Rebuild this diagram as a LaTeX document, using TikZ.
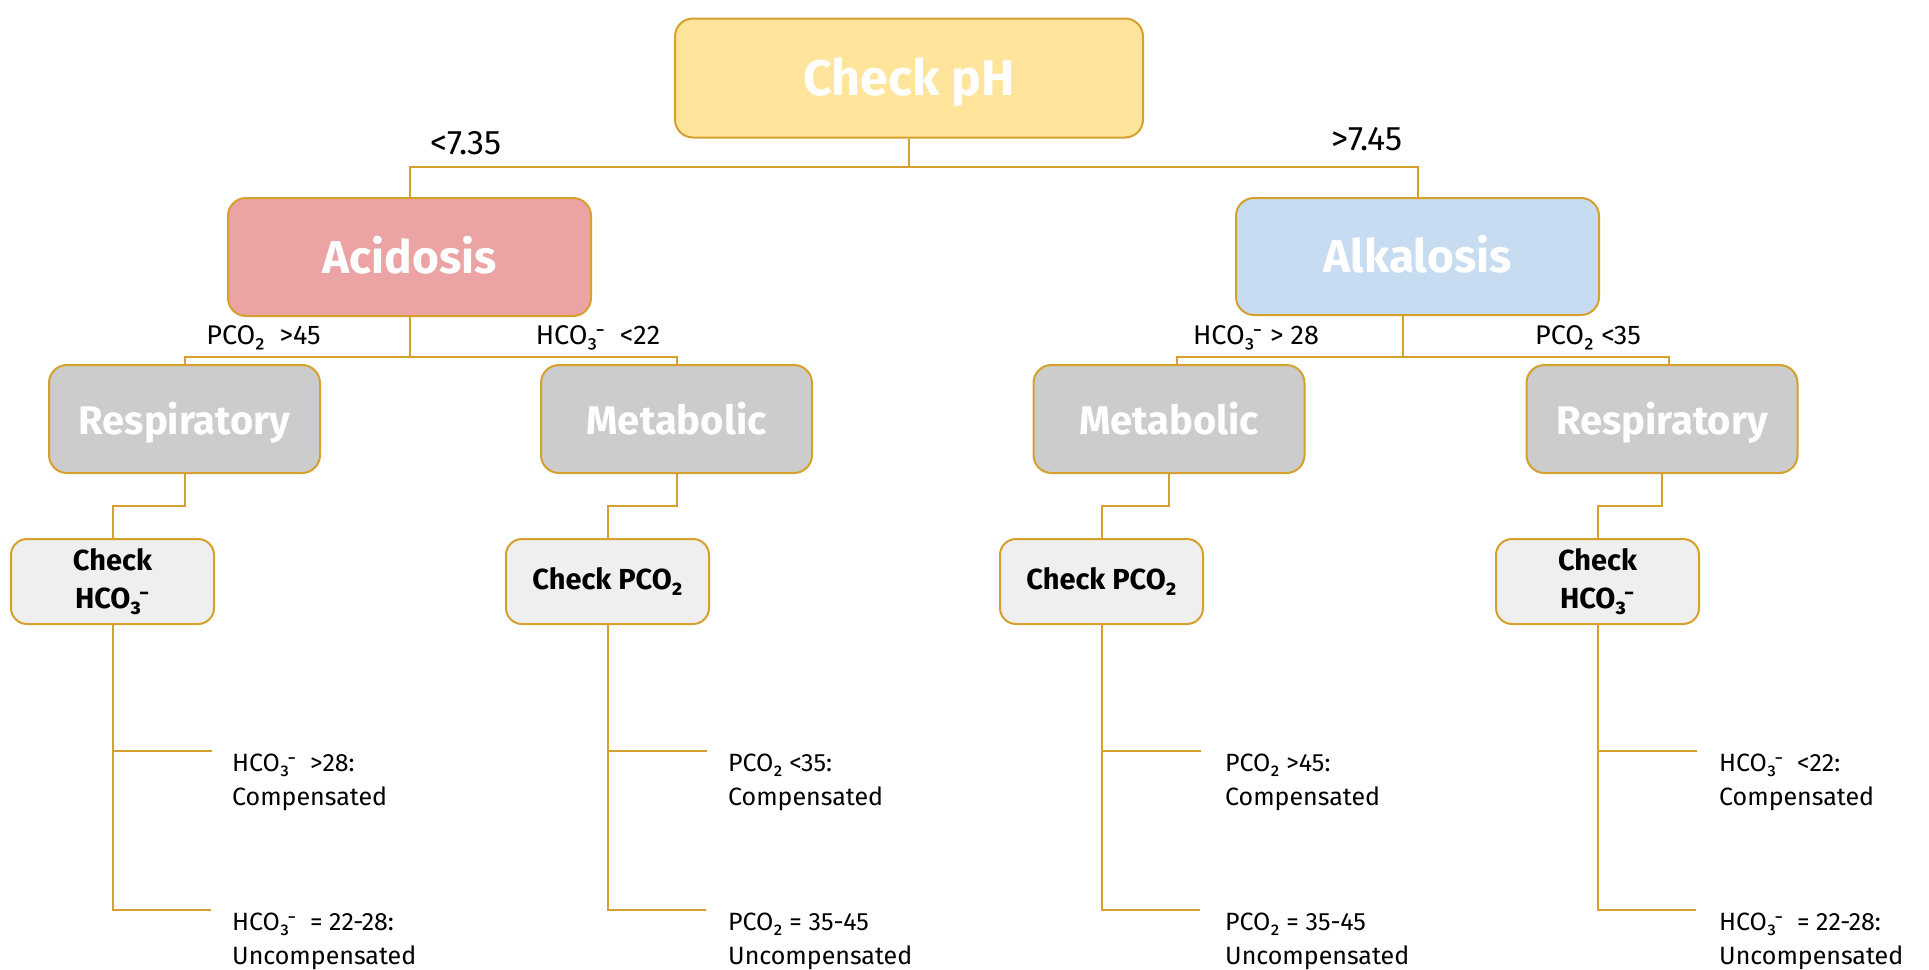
\documentclass[tikz,border=0pt]{standalone}
\usepackage{fontspec}
\setmainfont{Fira Sans}
\usetikzlibrary{calc}

\definecolor{gold}{HTML}{D6A02C}
\definecolor{phfill}{HTML}{FFE59B}
\definecolor{acidfill}{HTML}{EBA3A3}
\definecolor{alkfill}{HTML}{C7DCF0}
\definecolor{typefill}{HTML}{CCCCCC}
\definecolor{checkfill}{HTML}{EFEFEF}

\tikzset{
  box/.style={draw=gold, line width=2pt, rounded corners=18pt, inner sep=0pt,
    align=center, font=\bfseries},
  toplevel/.style={box, text=white, text height=40pt, text depth=8pt,
    font=\bfseries\fontsize{46}{52}\selectfont},
  typebox/.style={box, fill=typefill, text=white, minimum width=271pt,
    minimum height=108pt, text height=39pt, text depth=7.4pt,
    font=\bfseries\fontsize{40}{44}\selectfont},
  checkbox/.style={box, fill=checkfill, text=black, minimum width=203pt,
    minimum height=85pt, rounded corners=16pt,
    font=\bfseries\fontsize{29}{38}\selectfont},
  link/.style={draw=gold, line width=2pt},
  cond/.style={inner sep=0pt, font=\fontsize{27}{32}\selectfont},
  pHcond/.style={inner sep=0pt, font=\fontsize{34}{38}\selectfont},
  result/.style={inner sep=0pt, anchor=west, align=left,
    font=\fontsize{25}{34}\selectfont},
}

\begin{document}
\begin{tikzpicture}[x=1pt, y=-1pt]
\useasboundingbox (0,0) rectangle (1929,969);

% top level
\node[toplevel, fill=phfill, minimum width=468pt, minimum height=119pt,
  text height=43pt, text depth=8.6pt,
  font=\bfseries\fontsize{50}{56}\selectfont] (ph) at (909,78) {Check pH};
\node[toplevel, fill=acidfill, minimum width=363pt, minimum height=118pt]
  (acid) at (409.5,257) {Acidosis};
\node[toplevel, fill=alkfill, minimum width=363pt, minimum height=117pt]
  (alk) at (1417.5,256.5) {Alkalosis};

% disorder type
\node[typebox] (respL) at (184.5,419) {Respiratory};
\node[typebox] (metL)  at (676.5,419) {Metabolic};
\node[typebox] (metR)  at (1169,419)  {Metabolic};
\node[typebox] (respR) at (1662,419)  {Respiratory};

% what to check next
\node[checkbox] (chkL1) at (112.5,581.5)  {Check\\HCO₃⁻};
\node[checkbox] (chkL2) at (607.5,581.5)  {Check PCO₂};
\node[checkbox] (chkR1) at (1101.5,581.5) {Check PCO₂};
\node[checkbox] (chkR2) at (1597.5,581.5) {Check\\HCO₃⁻};

% branch bars
\coordinate (barA) at (0,167);
\coordinate (barB) at (0,357);
\coordinate (kink) at (0,506);

\draw[link] (ph.south) -- (ph.south |- barA);
\draw[link] (acid.north) -- (acid.north |- barA) -| (alk.north);

\draw[link] (acid.south) -- (acid.south |- barB);
\draw[link] (respL.north) -- (respL.north |- barB) -| (metL.north);

\coordinate (alkdrop) at ($(alk.south)+(-15,0)$);
\coordinate (metRtop) at ($(metR.north)+(8,0)$);
\coordinate (respRtop) at ($(respR.north)+(7,0)$);
\draw[link] (alkdrop) -- (alkdrop |- barB);
\draw[link] (metRtop) -- (metRtop |- barB) -| (respRtop);

\draw[link] (respL.south) -- (respL.south |- kink) -| (chkL1.north);
\draw[link] (metL.south)  -- (metL.south |- kink)  -| (chkL2.north);
\draw[link] (metR.south)  -- (metR.south |- kink)  -| (chkR1.north);
\draw[link] (respR.south) -- (respR.south |- kink) -| (chkR2.north);

% branch conditions
\node[pHcond] (lo) at (466,143)  {<7.35};
\node[pHcond] (hi) at (1367,139) {>7.45};
\node[cond] (c1)  at (263.5,338) {PCO₂~ >45};
\node[cond] (c2)  at (598,338)   {HCO₃⁻~ <22};
\node[cond] (c3)  at (1256,338)  {HCO₃⁻ > 28};
\node[cond] (c4)  at (1588,338)  {PCO₂ <35};

% compensation outcomes
\foreach \chk/\tx/\ta/\tb/\na/\nb in {
  chkL1/232/{HCO₃⁻~ >28:}/{HCO₃⁻~ = 22-28:}/rL1a/rL1b,
  chkL2/728/{PCO₂ <35:}/{PCO₂ = 35-45}/rL2a/rL2b,
  chkR1/1225/{PCO₂ >45:}/{PCO₂ = 35-45}/rR1a/rR1b,
  chkR2/1719/{HCO₃⁻~ <22:}/{HCO₃⁻~ = 22-28:}/rR2a/rR2b}{
  \coordinate (up)  at ($(\chk.south)+(0,126)$);
  \coordinate (low) at ($(\chk.south)+(0,285)$);
  \draw[link] (\chk.south) -- (low) -- ++(98,0);
  \draw[link] (up) -- ++(99,0);
  \node[result] (\na) at (\tx,782)   {\ta\\Compensated};
  \node[result] (\nb) at (\tx,941) {\tb\\Uncompensated};
}
\end{tikzpicture}
\end{document}
